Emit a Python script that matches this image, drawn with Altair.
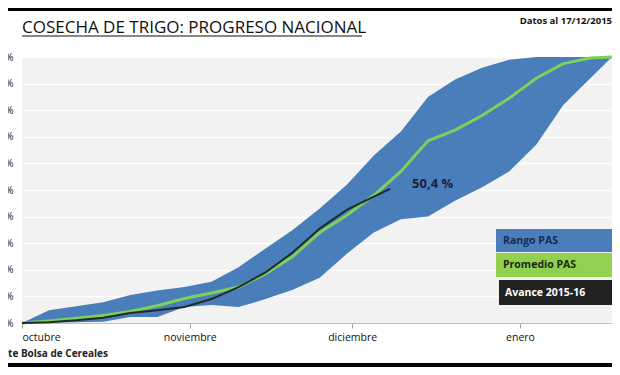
import altair as alt
import pandas as pd

# ---- data ----
days = [0, 5, 10, 15, 20, 25, 30, 35, 40, 45, 50, 55, 60, 65, 70, 75, 80, 85, 90, 95, 100, 105, 109]
rango_max = [0, 4.8, 6.3, 7.8, 10.5, 12.2, 13.5, 15.5, 21, 28, 35, 43, 52, 63, 72, 85, 91.5, 96, 99, 100, 100, 100, 100]
rango_min = [0, 0.1, 0.3, 0.5, 2.3, 2.3, 6, 6.8, 6.0, 9, 12.5, 17, 26, 34, 39, 40, 46, 51, 57, 67, 82, 92, 100]
promedio = [0, 0.8, 1.8, 2.8, 4.3, 6.5, 9.2, 11.3, 13.5, 18.5, 25, 34, 40.5, 48, 57, 68.5, 72.5, 78, 84.5, 92, 97.5, 99.6, 100]

avance_days = [0, 5, 10, 15, 20, 25, 30, 35, 40, 45, 50, 55, 60, 65, 68]
avance = [0, 0.3, 1, 2, 3.8, 4.8, 6, 9, 13.5, 19, 26.5, 35.5, 42.5, 47.5, 50.4]

month_ticks = [0, 31, 61, 92]
month_labels = ["octubre", "noviembre", "diciembre", "enero"]
y_ticks = list(range(0, 101, 10))

legend_labels = ["Rango PAS", "Promedio PAS", "Avance 2015-16"]
last_label = "50,4 %"

BLUE = "#4a7ebb"
GREEN = "#7fcf5a"
LEG_GREEN = "#92d050"
DARK = "#1f2a2a"
FONT = "Open Sans"

df = pd.DataFrame({"day": days, "lo": rango_min, "hi": rango_max, "prom": promedio})
dfa = pd.DataFrame({"day": avance_days, "av": avance})

label_expr = " : ".join(
    f"datum.value == {t} ? '{l}'" for t, l in zip(month_ticks, month_labels)
) + " : ''"

xscale = alt.Scale(domain=[0, 109], nice=False, zero=False)
yscale = alt.Scale(domain=[0, 100], nice=False)

xaxis = alt.Axis(values=month_ticks, labelExpr=label_expr, title=None, grid=False,
                 tickSize=5, tickColor="#a6a6a6", domainColor="#bfbfbf",
                 labelFont=FONT, labelFontSize=10.5, labelColor="#111", labelPadding=4)
yaxis = alt.Axis(values=y_ticks, labelExpr="datum.value + '%'", title=None,
                 grid=True, gridColor="white", gridWidth=1.5, domain=False, ticks=False,
                 labelOverlap=False, labelFont=FONT, labelFontSize=10, labelColor="#111",
                 labelPadding=9)

X = lambda f: alt.X(f, scale=xscale, axis=xaxis)
Y = lambda f: alt.Y(f, scale=yscale, axis=yaxis)

band = alt.Chart(df).mark_area(color=BLUE, opacity=1).encode(
    x=X("day:Q"), y=Y("lo:Q"), y2="hi:Q",
)
prom_line = alt.Chart(df).mark_line(color=GREEN, strokeWidth=3).encode(
    x=X("day:Q"), y=Y("prom:Q")
)
av_line = alt.Chart(dfa).mark_line(color=DARK, strokeWidth=2).encode(
    x=X("day:Q"), y=Y("av:Q")
)
last = alt.Chart(dfa.tail(1).assign(t=last_label)).mark_text(
    align="left", baseline="middle", dx=22, dy=-5, font=FONT, fontSize=13,
    fontWeight="bold", color="#1a1f3a"
).encode(x=X("day:Q"), y=Y("av:Q"), text="t:N")

# ---- decorations: title, note, source, legend boxes, frame bars ----
def txt(s, x, y, **kw):
    return alt.Chart(pd.DataFrame({"t": [s]})).mark_text(font=FONT, **kw).encode(
        x=alt.value(x), y=alt.value(y), text="t:N")

def box(x, x2, y, y2, color):
    return alt.Chart(pd.DataFrame({"a": [0]})).mark_rect(color=color).encode(
        x=alt.value(x), x2=alt.value(x2), y=alt.value(y), y2=alt.value(y2))

title = txt("COSECHA DE TRIGO: PROGRESO NACIONAL", 0, -24, align="left",
            baseline="alphabetic", fontSize=17, color="#111")
underline = alt.Chart(pd.DataFrame({"a": [0]})).mark_rule(color="#111", strokeWidth=1.2).encode(
    x=alt.value(0), x2=alt.value(340), y=alt.value(-21))
datos = txt("Datos al 17/12/2015", 590, -33, align="right", baseline="alphabetic",
            fontSize=9.5, fontWeight="bold", color="#111")
fuente = txt("Fuente Bolsa de Cereales", 86, 300, align="right", baseline="alphabetic",
             fontSize=10, fontWeight="bold", color="#222")

leg = [
    box(474, 590, 172, 195, BLUE),
    box(474, 590, 196, 220, LEG_GREEN),
    box(477, 590, 223, 248, "#222222"),
    txt(legend_labels[0], 481, 184, align="left", baseline="middle", fontSize=10.5,
        fontWeight="bold", color="#1a2a50"),
    txt(legend_labels[1], 481, 208, align="left", baseline="middle", fontSize=10.5,
        fontWeight="bold", color="#1a2a10"),
    txt(legend_labels[2], 483, 236, align="left", baseline="middle", fontSize=10.5,
        fontWeight="bold", color="white"),
]
bars = [box(-14, 590, -49, -46, "#000"), box(-14, 590, 306, 310, "#000")]

chart = alt.layer(band, prom_line, av_line, last, title, underline, datos, fuente,
                  *leg, *bars).properties(
    width=590, height=266,
    autosize=alt.AutoSizeParams(type="none"),
    padding={"left": 14, "top": 49, "right": 0, "bottom": 44},
    background="white",
).configure_view(fill="#f2f2f2", stroke=None)

chart.save("out.html", embed_options={"renderer": "svg", "actions": False})
